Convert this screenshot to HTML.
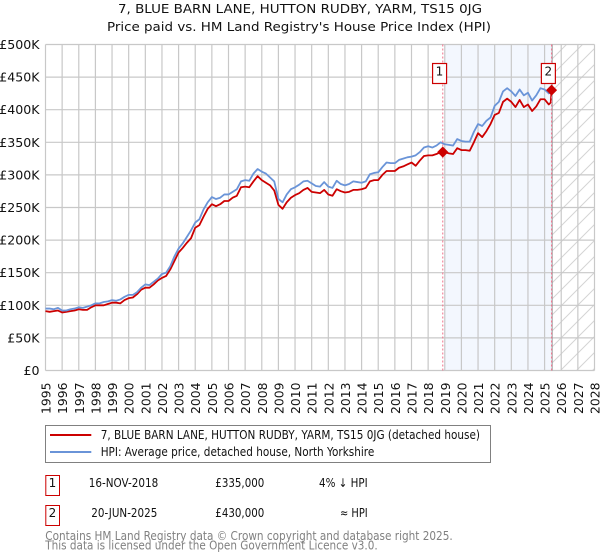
<!DOCTYPE html>
<html lang="en">
<head>
<meta charset="utf-8">
<title>7, Blue Barn Lane house price chart</title>
<style>
html,body{margin:0;padding:0;background:#fff;width:600px;height:560px;overflow:hidden}
svg{display:block;font-family:"DejaVu Sans","Liberation Sans",sans-serif}
</style>
</head>
<body>
<svg id="chart" width="600" height="560" viewBox="0 0 600 560" xmlns="http://www.w3.org/2000/svg">
  <defs>
    <pattern id="hatch" width="16" height="16" patternUnits="userSpaceOnUse" patternTransform="translate(3 0)">
      <path d="M-1 17L17 -1M-9 9L9 -9M7 25L25 7" stroke="#d4d4d4" stroke-width="1" fill="none"/>
    </pattern>
  </defs>
  <text x="118" y="13" font-size="12" textLength="364" lengthAdjust="spacingAndGlyphs" fill="#111">7, BLUE BARN LANE, HUTTON RUDBY, YARM, TS15 0JG</text>
  <text x="107" y="31" font-size="12" textLength="384" lengthAdjust="spacingAndGlyphs" fill="#111">Price paid vs. HM Land Registry's House Price Index (HPI)</text>

  <g id="plot-backdrop"></g>
  <g id="grid"></g>
  <g id="y-axis"></g>
  <g id="x-axis"></g>
  <g id="series"></g>
  <g id="sales"></g>

  <g>
    <rect x="45.5" y="425.5" width="445" height="37" fill="#fff" stroke="#808080" stroke-width="1"/>
    <line x1="50" x2="91.3" y1="435" y2="435" stroke="#cc0000" stroke-width="2"/>
    <text x="100.7" y="439" font-size="12" textLength="379.3" lengthAdjust="spacingAndGlyphs" fill="#111">7, BLUE BARN LANE, HUTTON RUDBY, YARM, TS15 0JG (detached house)</text>
    <line x1="50" x2="91.3" y1="452" y2="452" stroke="#6a94d8" stroke-width="2"/>
    <text x="100.7" y="456" font-size="12" textLength="273.6" lengthAdjust="spacingAndGlyphs" fill="#111">HPI: Average price, detached house, North Yorkshire</text>
  </g>

  <g>
    <rect x="45.8" y="475.5" width="13.7" height="20" fill="#fff" stroke="#cc0000" stroke-width="1"/>
    <text x="52.4" y="487" text-anchor="middle" font-size="12" fill="#111">1</text>
    <text x="88.7" y="487" font-size="12" textLength="69.6" lengthAdjust="spacingAndGlyphs" fill="#111">16-NOV-2018</text>
    <text x="215.3" y="487" font-size="12" textLength="49" lengthAdjust="spacingAndGlyphs" fill="#111">£335,000</text>
    <text x="319" y="487" font-size="12" textLength="48.7" lengthAdjust="spacingAndGlyphs" fill="#111">4% ↓ HPI</text>
  </g>
  <g>
    <rect x="45.8" y="505.5" width="13.7" height="20" fill="#fff" stroke="#cc0000" stroke-width="1"/>
    <text x="52.4" y="517" text-anchor="middle" font-size="12" fill="#111">2</text>
    <text x="91.3" y="517" font-size="12" textLength="66" lengthAdjust="spacingAndGlyphs" fill="#111">20-JUN-2025</text>
    <text x="215.3" y="517" font-size="12" textLength="49" lengthAdjust="spacingAndGlyphs" fill="#111">£430,000</text>
    <text x="340" y="517" font-size="12" textLength="27.7" lengthAdjust="spacingAndGlyphs" fill="#111">≈ HPI</text>
  </g>

  <text x="45.3" y="540" font-size="12" textLength="407.4" lengthAdjust="spacingAndGlyphs" fill="#808080">Contains HM Land Registry data © Crown copyright and database right 2025.</text>
  <text x="45.3" y="549.6" font-size="12" textLength="332.4" lengthAdjust="spacingAndGlyphs" fill="#808080">This data is licensed under the Open Government Licence v3.0.</text>
</svg>
<script>
var yTicks = [0, 50, 100, 150, 200, 250, 300, 350, 400, 450, 500];
var yTickLabels = ['£0', '£50K', '£100K', '£150K', '£200K', '£250K', '£300K', '£350K', '£400K', '£450K', '£500K'];
var xTicks = [1995, 1996, 1997, 1998, 1999, 2000, 2001, 2002, 2003, 2004, 2005, 2006, 2007, 2008, 2009, 2010, 2011, 2012, 2013, 2014, 2015, 2016, 2017, 2018, 2019, 2020, 2021, 2022, 2023, 2024, 2025, 2026, 2027, 2028];
var firstQuarterYear = 1995;
var hpiValues = [95, 95, 94, 96, 92, 92, 94, 95, 97, 96, 98, 100, 103, 103, 105, 106, 108, 107, 109, 113, 116, 116, 120, 127, 132, 131, 136, 141, 148, 150, 160, 175, 187, 195, 205, 215, 227, 232, 247, 258, 266, 263, 265, 270, 270, 274, 278, 290, 292, 291, 302, 309, 305, 302, 296, 290, 263, 258, 270, 278, 281, 285, 290, 291, 287, 283, 282, 289, 282, 280, 291, 286, 284, 286, 290, 289, 288, 290, 301, 303, 304, 312, 319, 318, 318, 323, 325, 327, 328, 330, 335, 342, 344, 342, 345, 350, 347, 346, 345, 355, 352, 351, 351, 366, 378, 375, 383, 388, 406, 412, 428, 433, 428, 421, 431, 422, 426, 414, 422, 433, 431, 425];
var hpiFinalDates = [2025.42];
var hpiFinalValues = [430];
var priceValues = [91, 90, 91, 92, 89, 90, 91, 92, 94, 93, 93, 97, 100, 100, 100, 102, 104, 104, 103, 108, 111, 112, 117, 124, 127, 127, 132, 138, 142, 145, 155, 168, 181, 188, 196, 203, 219, 223, 236, 248, 255, 252, 255, 260, 260, 265, 268, 281, 282, 281, 290, 298, 292, 288, 284, 276, 254, 248, 258, 265, 269, 272, 277, 280, 274, 273, 272, 277, 270, 268, 278, 275, 273, 274, 277, 277, 278, 280, 290, 292, 292, 300, 306, 306, 306, 311, 313, 316, 319, 314, 322, 329, 330, 330, 332, 335, 335, 333, 332, 341, 338, 338, 337, 350, 364, 358, 367, 378, 392, 395, 412, 417, 412, 404, 415, 404, 408, 398, 405, 416, 416, 408];
var priceFinalDates = [2025.37, 2025.42];
var priceFinalValues = [411, 430];
var saleDates = [2018.88, 2025.42];
var saleValues = [335, 430];
var saleNumbers = ['1', '2'];

var NS = 'http://www.w3.org/2000/svg';
var plotLeft = 45.5, plotRight = 594.5, plotTop = 44.5, plotBottom = 370.5;
function xScale(year) { return plotLeft + (year - 1995) * (plotRight - plotLeft) / 33; }
function yScale(k) { return plotBottom - k * (plotBottom - plotTop) / 500; }
function make(parent, tag, attrs) {
  var el = document.createElementNS(NS, tag);
  for (var key in attrs) { el.setAttribute(key, attrs[key]); }
  parent.appendChild(el);
  return el;
}
function seriesPath(dates, values) {
  var d = '';
  for (var i = 0; i < values.length; i++) {
    d += (i ? 'L' : 'M') + xScale(dates[i]).toFixed(2) + ' ' + yScale(values[i]).toFixed(2);
  }
  return d;
}
function quarterDates(count) {
  var out = [];
  for (var i = 0; i < count; i++) { out.push(firstQuarterYear + i / 4); }
  return out;
}

var backdrop = document.getElementById('plot-backdrop');
var ownershipStart = xScale(saleDates[0]) + 1.2;
var ownershipEnd = xScale(saleDates[1]);
var shade = make(backdrop, 'rect', {x: ownershipStart, y: plotTop, width: ownershipEnd - ownershipStart, height: plotBottom - plotTop, fill: '#f3f7fe'});


var forecast = make(backdrop, 'rect', {x: ownershipEnd, y: plotTop, width: plotRight - ownershipEnd, height: plotBottom - plotTop, fill: 'url(#hatch)'});



var grid = document.getElementById('grid');
yTicks.forEach(function (tick) {
  var line = make(grid, 'line', {x1: plotLeft, x2: plotRight, y1: yScale(tick), y2: yScale(tick), stroke: '#c8c8c8', 'stroke-width': 1.2});
  
  
});
xTicks.forEach(function (tick) {
  var line = make(grid, 'line', {x1: xScale(tick), x2: xScale(tick), y1: plotTop, y2: plotBottom, stroke: '#c8c8c8', 'stroke-width': 1.2});
  
  
});

var yAxis = document.getElementById('y-axis');
yTicks.forEach(function (tick, i) {
  var label = make(yAxis, 'text', {x: 39.5, y: yScale(tick) + 4.5, 'text-anchor': 'end', 'font-size': 12.6, fill: '#111'});
  label.textContent = yTickLabels[i];
  
  
});

var xAxis = document.getElementById('x-axis');
xTicks.forEach(function (tick) {
  var px = xScale(tick);
  var label = make(xAxis, 'text', {transform: 'translate(' + (px + 5) + ' 382.5) rotate(-90)', 'text-anchor': 'end', 'font-size': 12.4, fill: '#111'});
  label.textContent = String(tick);
  
  
});

var series = document.getElementById('series');
var priceDates = quarterDates(priceValues.length).concat(priceFinalDates);
var priceLine = make(series, 'path', {d: seriesPath(priceDates, priceValues.concat(priceFinalValues)), fill: 'none', stroke: '#cc0000', 'stroke-width': 1.8, 'stroke-linejoin': 'round'});


var hpiDates = quarterDates(hpiValues.length).concat(hpiFinalDates);
var hpiLine = make(series, 'path', {d: seriesPath(hpiDates, hpiValues.concat(hpiFinalValues)), fill: 'none', stroke: '#6a94d8', 'stroke-width': 1.8, 'stroke-linejoin': 'round'});



var sales = document.getElementById('sales');
var endLine = make(sales, 'line', {x1: ownershipEnd + 0.6, x2: ownershipEnd + 0.6, y1: plotTop, y2: plotBottom, stroke: '#999999', 'stroke-width': 1});


saleDates.forEach(function (date, i) {
  var px = xScale(date);
  var py = yScale(saleValues[i]);
  var guide = make(sales, 'line', {x1: px, x2: px, y1: plotTop, y2: plotBottom, stroke: '#f0708a', 'stroke-width': 1, 'stroke-dasharray': '2 2'});
  
  
  var diamond = make(sales, 'polygon', {points: (px - 5) + ',' + py + ' ' + px + ',' + (py - 5) + ' ' + (px + 5) + ',' + py + ' ' + px + ',' + (py + 5), fill: '#cc0000', stroke: '#cc0000', 'stroke-width': 0.8, 'stroke-linejoin': 'round'});
  
  
  var box = make(sales, 'rect', {x: px - 10.2, y: 63.5, width: 14, height: 20, fill: '#fff', stroke: '#cc0000', 'stroke-width': 1.2});
  
  
  var num = make(sales, 'text', {x: px - 3.3, y: 75.5, 'text-anchor': 'middle', 'font-size': 12, fill: '#111'});
  num.textContent = saleNumbers[i];
  
  
});
</script>
</body>
</html>
